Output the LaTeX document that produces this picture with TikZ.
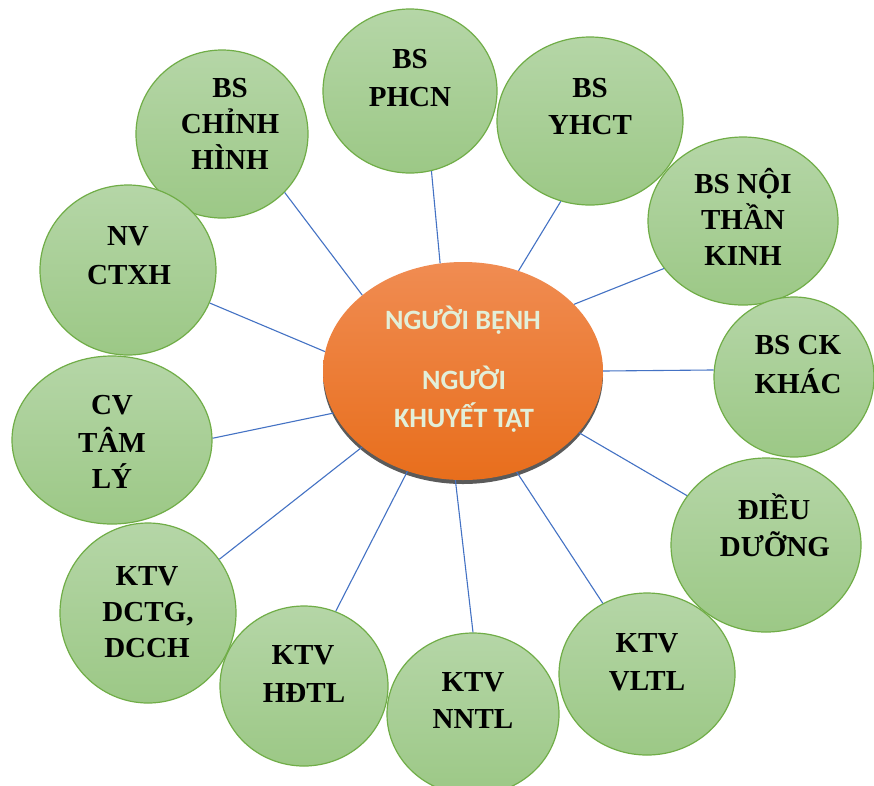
\documentclass[tikz,border=0pt]{standalone}
\usepackage{fontspec}
\setmainfont{Liberation Serif}
\newfontfamily\calib{Carlito}
\usetikzlibrary{shapes.geometric}
\definecolor{gtop}{HTML}{B5D6A7}
\definecolor{gbot}{HTML}{9CC886}
\definecolor{gline}{HTML}{70AD47}
\definecolor{otop}{HTML}{F08C52}
\definecolor{obot}{HTML}{E86E1C}
\definecolor{linkblue}{HTML}{4472C4}
\definecolor{ctext}{HTML}{E2EFD9}
\definecolor{shadowgray}{HTML}{5A5A5A}
\begin{document}
\begin{tikzpicture}[x=1pt,y=-1pt,
  bub/.style={ellipse, draw=gline, line width=1.2pt, top color=gtop, bottom color=gbot, inner sep=0pt},
  lbl/.style={anchor=base, inner sep=0pt, font=\fontsize{29}{35}\selectfont\bfseries},
  clbl/.style={anchor=base, inner sep=0pt, text=ctext, font=\calib\fontsize{28}{34}\selectfont\bfseries},
  link/.style={draw=linkblue, line width=1.1pt}]
\useasboundingbox (0,0) rectangle (874,785);
\clip (0,0) rectangle (874,785);
\fill[white] (0,0) rectangle (874,785);

% center
\node[ellipse, inner sep=0pt, fill=shadowgray, minimum width=280pt, minimum height=218pt] (sh) at (463,375) {};
\node[ellipse, inner sep=0pt, top color=otop, bottom color=obot, minimum width=280pt, minimum height=218pt] (pc) at (463,371) {};
\node[clbl] (c1) at (463,329) {NGƯỜI BỆNH};
\node[clbl] (c2) at (464,389) {NGƯỜI};
\node[clbl] (c3) at (464,427) {KHUYẾT TẬT};

% bubbles
\node[bub, minimum width=172pt, minimum height=168pt] (ch) at (222,134) {};
\node[bub, minimum width=174pt, minimum height=164pt] (ph) at (410,91) {};
\node[bub, minimum width=186pt, minimum height=168pt] (yh) at (590,121) {};
\node[bub, minimum width=190pt, minimum height=168pt] (nt) at (743,221) {};
\node[bub, minimum width=160pt, minimum height=160pt] (ck) at (794,377) {};
\node[bub, minimum width=190pt, minimum height=174pt] (dd) at (766,545) {};
\node[bub, minimum width=176pt, minimum height=162pt] (vl) at (647,674) {};
\node[bub, minimum width=172pt, minimum height=162pt] (nn) at (473,714) {};
\node[bub, minimum width=168pt, minimum height=160pt] (hd) at (304,686) {};
\node[bub, minimum width=176pt, minimum height=180pt] (dc) at (148,613) {};
\node[bub, minimum width=200pt, minimum height=168pt] (cv) at (112,440) {};
\node[bub, minimum width=176pt, minimum height=170pt] (nv) at (128,270) {};

% connectors
\draw[link] (ch.-43.6) -- (pc.143);
\draw[link] (nv.-22.4) -- (pc.172.1);
\draw[link] (cv.1) -- (pc.198.3);
\draw[link] (dc.37.5) -- (pc.217.3);
\draw[link] (hd.67.6) -- (pc.241.2);
\draw[link] (nn.90) -- (pc.266.4);
\draw[link] (vl.122.5) -- (pc.-62.8);
\draw[link] (dd.148.4) -- (pc.-28.7);
\draw[link] (ck.175.7) -- (pc.0);
\draw[link] (nt.-149.5) -- (pc.31.7);
\draw[link] (yh.-110.9) -- (pc.61);
\draw[link] (ph.-75.5) -- (pc.102);

% labels
\node[lbl] (ch1) at (230,97) {BS};
\node[lbl] (ch2) at (230,133) {CHỈNH};
\node[lbl] (ch3) at (230,169) {HÌNH};
\node[lbl] (ph1) at (410,68) {BS};
\node[lbl] (ph2) at (410,106) {PHCN};
\node[lbl] (yh1) at (590,97) {BS};
\node[lbl] (yh2) at (590,134) {YHCT};
\node[lbl] (nt1) at (743,193) {BS NỘI};
\node[lbl] (nt2) at (743,229) {THẦN};
\node[lbl] (nt3) at (743,265) {KINH};
\node[lbl] (ck1) at (798,354) {BS CK};
\node[lbl] (ck2) at (798,393) {KHÁC};
\node[lbl] (dd1) at (774,519) {ĐIỀU};
\node[lbl] (dd2) at (775,556) {DƯỠNG};
\node[lbl] (vl1) at (647,652) {KTV};
\node[lbl] (vl2) at (647,690) {VLTL};
\node[lbl] (nn1) at (473,691) {KTV};
\node[lbl] (nn2) at (473,728) {NNTL};
\node[lbl] (hd1) at (303,664) {KTV};
\node[lbl] (hd2) at (304,702) {HĐTL};
\node[lbl] (dc1) at (147,585) {KTV};
\node[lbl] (dc2) at (148,621) {DCTG,};
\node[lbl] (dc3) at (147,657) {DCCH};
\node[lbl] (cv1) at (112,414) {CV};
\node[lbl] (cv2) at (112,452) {TÂM};
\node[lbl] (cv3) at (112,488) {LÝ};
\node[lbl] (nv1) at (128,245) {NV};
\node[lbl] (nv2) at (129,284) {CTXH};
\end{tikzpicture}
\end{document}
